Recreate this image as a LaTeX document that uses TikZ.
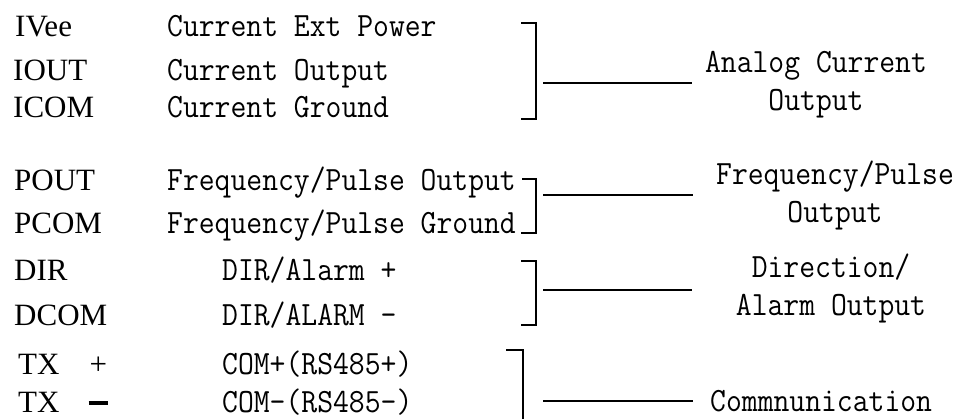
\documentclass[tikz,border=0pt]{standalone}
\usepackage{fontspec}
\setmainfont{Liberation Serif}
\newfontfamily\wirefont[FakeStretch=0.905]{Latin Modern Mono}
\usetikzlibrary{positioning}

\begin{document}
\begin{tikzpicture}[
  x=1pt, y=-1pt,
  pin/.style={anchor=base west, inner sep=0pt, font=\fontsize{31}{36}\selectfont},
  desc/.style={anchor=base west, inner sep=0pt, font=\wirefont\fontsize{34}{38}\selectfont},
  grp/.style={anchor=base, inner sep=0pt, align=center, font=\wirefont\fontsize{34}{38}\selectfont},
  brk/.style={line width=1.6pt},
  lead/.style={line width=1.6pt}
]
\useasboundingbox (0,0) rectangle (960,419);

% terminal names
\node[pin] (ivee) at (15,37) {IVee};
\node[pin] (iout) at (13,81) {IOUT};
\node[pin] (icom) at (13,118) {ICOM};
\node[pin] (pout) at (14,191) {POUT};
\node[pin] (pcom) at (14,234) {PCOM};
\node[pin] (dir) at (14,280) {DIR};
\node[pin] (dcom) at (14,325) {DCOM};
\node[pin] (txp) at (18,374) {TX\hspace{30pt}+};
\node[pin] (txm) at (18,412) {TX\hspace{29pt}\rule[7.5pt]{19pt}{3.2pt}};

% meanings
\node[desc] (ivee-d) at (167,37) {Current Ext Power};
\node[desc] (iout-d) at (167,81) {Current Output};
\node[desc] (icom-d) at (167,118) {Current Ground};
\node[desc] (pout-d) at (167,191) {Frequency/Pulse Output};
\node[desc] (pcom-d) at (167,234) {Frequency/Pulse Ground};
\node[desc] (dir-d) at (222,280) {DIR/Alarm +};
\node[desc] (dcom-d) at (222,325) {DIR/ALARM –};
\node[desc] (txp-d) at (222,374) {COM+(RS485+)};
\node[desc] (txm-d) at (222,412) {COM–(RS485–)};

% groups (anchored on the last line)
\node[grp] (analog) at (816,111) {Analog Current\\Output};
\node[grp] (freq) at (835,223) {Frequency/Pulse\\Output};
\node[grp] (alarm) at (831,316) {Direction/\\Alarm Output};
\node[desc] (comm) at (710,411) {Commnunication};

% brackets
\draw[brk] (521,23) -| (536,119) -- (521,119);
\draw[brk] (522,179) -| (536,233) -- (521,233);
\draw[brk] (521,261) -| (536,325) -- (521,325);
\draw[brk] (506,350) -| (523,419);

% leads
\coordinate (l1) at (543,83);
\coordinate (l2) at (543,195);
\coordinate (l3) at (543,290);
\coordinate (l4) at (543,401);
\draw[lead] (l1) -- ++(149,0);
\draw[lead] (l2) -- ++(150,0);
\draw[lead] (l3) -- ++(149,0);
\draw[lead] (l4) -- ++(150,0);
\end{tikzpicture}
\end{document}
